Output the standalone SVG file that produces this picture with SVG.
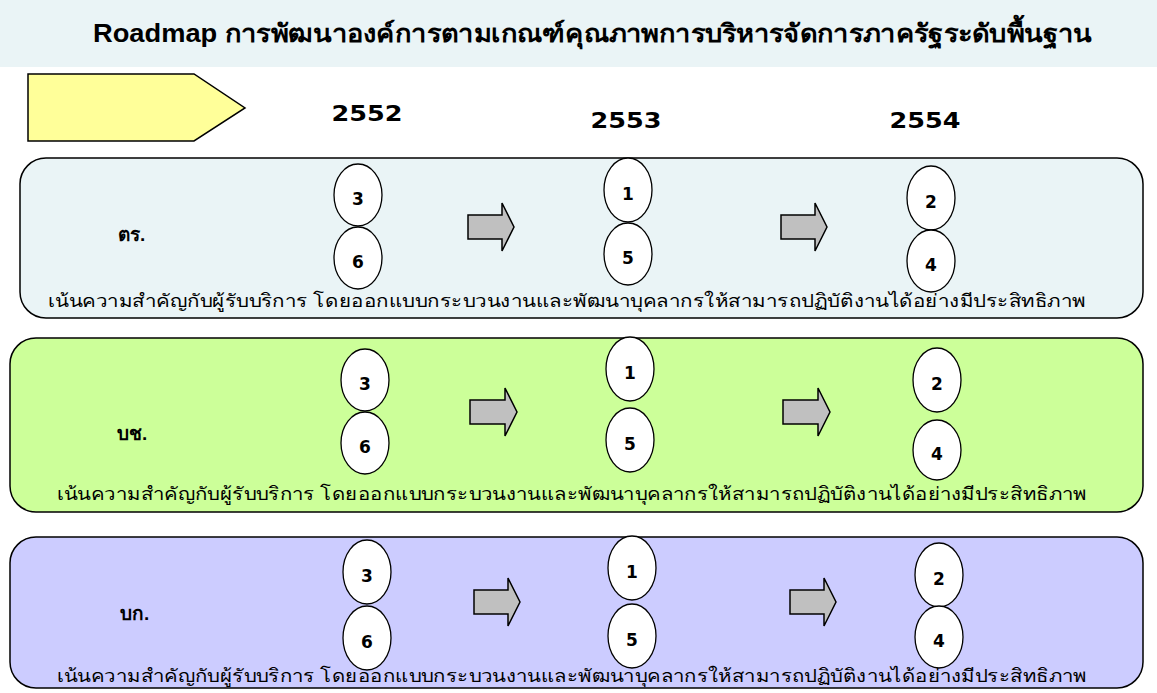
<svg xmlns="http://www.w3.org/2000/svg" width="1157" height="693" viewBox="0 0 1157 693">
<defs>
<style>
.title{font-family:"Liberation Sans","Noto Sans",sans-serif;font-weight:bold;font-size:25px;fill:#000}
.year{font-family:"DejaVu Sans","Liberation Sans",sans-serif;font-weight:bold;font-size:22px;fill:#000;text-anchor:middle}
.row{stroke:#000;stroke-width:1.5}
.ell{fill:#fff;stroke:#000;stroke-width:1.3}
.num{font-family:"DejaVu Sans","Liberation Sans",sans-serif;font-weight:bold;font-size:17px;fill:#000;text-anchor:middle}
.lbl{font-family:"Liberation Sans","Noto Sans",sans-serif;font-weight:bold;font-size:19px;fill:#000}
.desc{font-family:"Liberation Sans","Noto Sans",sans-serif;font-size:18px;fill:#000}
.arr{fill:#C0C0C0;stroke:#000;stroke-width:1.5}
</style>
</defs>
<rect x="0" y="0" width="1157" height="67" fill="#EAF4F6"/>
<text class="title" x="93" y="42" textLength="999" lengthAdjust="spacingAndGlyphs">Roadmap การพัฒนาองค์การตามเกณฑ์คุณภาพการบริหารจัดการภาครัฐระดับพื้นฐาน</text>
<g id="header-arrow"><path d="M28,74 H194 L245,108 L194,141 H28 Z" fill="#FFFF99" stroke="#000" stroke-width="1.5"/></g>
<g id="years">
<text class="year" x="367" y="121" textLength="71" lengthAdjust="spacingAndGlyphs">2552</text>
<text class="year" x="626" y="128" textLength="71" lengthAdjust="spacingAndGlyphs">2553</text>
<text class="year" x="925" y="128" textLength="71" lengthAdjust="spacingAndGlyphs">2554</text>
</g>

<g id="row-tr">
<rect class="row" x="20" y="158" width="1123" height="160" rx="26" fill="#EAF4F6"/>
<text class="lbl" x="118" y="241">ตร.</text>
<text class="desc" x="48" y="307" textLength="1038" lengthAdjust="spacingAndGlyphs">เน้นความสำคัญกับผู้รับบริการ โดยออกแบบกระบวนงานและพัฒนาบุคลากรให้สามารถปฏิบัติงานได้อย่างมีประสิทธิภาพ</text>
</g>
<g id="tr-3"><ellipse class="ell" cx="358" cy="195" rx="24" ry="31"/><text class="num" x="358" y="205">3</text></g>
<g id="tr-6"><ellipse class="ell" cx="358" cy="258" rx="24" ry="31"/><text class="num" x="358" y="268">6</text></g>
<g id="tr-1"><ellipse class="ell" cx="628" cy="190" rx="24" ry="32"/><text class="num" x="628" y="200">1</text></g>
<g id="tr-5"><ellipse class="ell" cx="628" cy="254" rx="24" ry="31"/><text class="num" x="628" y="264">5</text></g>
<g id="tr-2"><ellipse class="ell" cx="931" cy="198" rx="24" ry="32"/><text class="num" x="931" y="208">2</text></g>
<g id="tr-4"><ellipse class="ell" cx="931" cy="261" rx="24" ry="31"/><text class="num" x="931" y="271">4</text></g>

<g id="row-bc">
<rect class="row" x="10" y="338" width="1133" height="174" rx="26" fill="#CCFF99"/>
<text class="lbl" x="117" y="440">บช.</text>
<text class="desc" x="57" y="500" textLength="1030" lengthAdjust="spacingAndGlyphs">เน้นความสำคัญกับผู้รับบริการ โดยออกแบบกระบวนงานและพัฒนาบุคลากรให้สามารถปฏิบัติงานได้อย่างมีประสิทธิภาพ</text>
</g>
<g id="bc-3"><ellipse class="ell" cx="365" cy="380" rx="24" ry="31"/><text class="num" x="365" y="390">3</text></g>
<g id="bc-6"><ellipse class="ell" cx="365" cy="443" rx="24" ry="31"/><text class="num" x="365" y="453">6</text></g>
<g id="bc-1"><ellipse class="ell" cx="630" cy="369" rx="24" ry="32"/><text class="num" x="630" y="379">1</text></g>
<g id="bc-5"><ellipse class="ell" cx="630" cy="440" rx="24" ry="32"/><text class="num" x="630" y="450">5</text></g>
<g id="bc-2"><ellipse class="ell" cx="937" cy="380" rx="24" ry="32"/><text class="num" x="937" y="390">2</text></g>
<g id="bc-4"><ellipse class="ell" cx="937" cy="450" rx="24" ry="30"/><text class="num" x="937" y="460">4</text></g>

<g id="row-bk">
<rect class="row" x="10" y="537" width="1133" height="151" rx="26" fill="#CCCCFF"/>
<text class="lbl" x="120" y="620">บก.</text>
<text class="desc" x="57" y="682" textLength="1030" lengthAdjust="spacingAndGlyphs">เน้นความสำคัญกับผู้รับบริการ โดยออกแบบกระบวนงานและพัฒนาบุคลากรให้สามารถปฏิบัติงานได้อย่างมีประสิทธิภาพ</text>
</g>
<g id="bk-3"><ellipse class="ell" cx="367" cy="572" rx="24" ry="32"/><text class="num" x="367" y="582">3</text></g>
<g id="bk-6"><ellipse class="ell" cx="367" cy="638" rx="24" ry="32"/><text class="num" x="367" y="648">6</text></g>
<g id="bk-1"><ellipse class="ell" cx="632" cy="568" rx="24" ry="32"/><text class="num" x="632" y="578">1</text></g>
<g id="bk-5"><ellipse class="ell" cx="632" cy="636" rx="24" ry="32"/><text class="num" x="632" y="646">5</text></g>
<g id="bk-2"><ellipse class="ell" cx="939" cy="575" rx="24" ry="32"/><text class="num" x="939" y="585">2</text></g>
<g id="bk-4"><ellipse class="ell" cx="939" cy="637" rx="24" ry="31"/><text class="num" x="939" y="647">4</text></g>

<g id="connectors">
<path class="arr" d="M468,215 H502 V203 L514,227 L502,251 V239 H468 Z"/>
<path class="arr" d="M781,215 H815 V203 L827,227 L815,251 V239 H781 Z"/>
<path class="arr" d="M470,400 H505 V388 L517,412 L505,436 V424 H470 Z"/>
<path class="arr" d="M783,400 H818 V388 L830,412 L818,436 V424 H783 Z"/>
<path class="arr" d="M474,590 H508 V578 L520,602 L508,626 V614 H474 Z"/>
<path class="arr" d="M790,590 H824 V578 L836,602 L824,626 V614 H790 Z"/>
</g>
</svg>
